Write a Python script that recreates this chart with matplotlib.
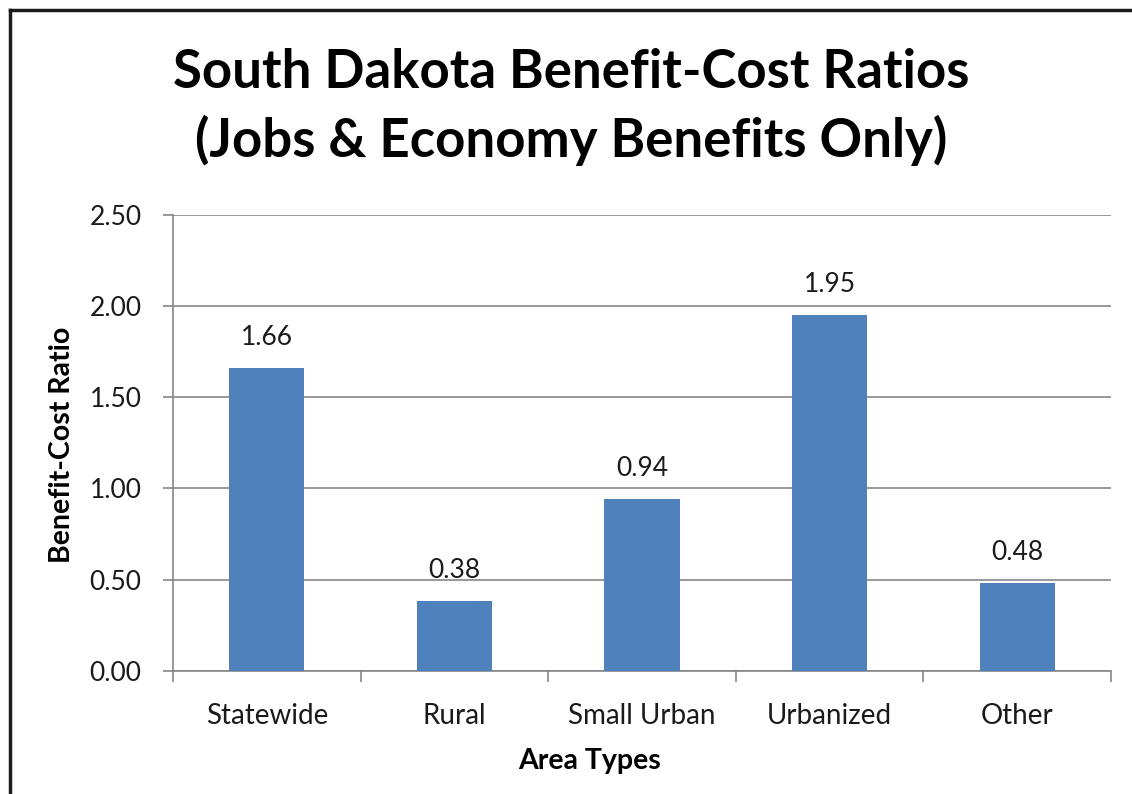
import matplotlib.pyplot as plt
from matplotlib.lines import Line2D

categories = ['Statewide', 'Rural', 'Small Urban', 'Urbanized', 'Other']
ratios = [1.66, 0.38, 0.94, 1.95, 0.48]
yticks = [0.0, 0.5, 1.0, 1.5, 2.0, 2.5]

plt.rcParams['font.family'] = ['Lato', 'DejaVu Sans']

fig = plt.figure(figsize=(11.32, 7.94), dpi=100)
ax = fig.add_axes([173 / 1132, 1 - 670.7 / 794, 938 / 1132, 456 / 794])

x = list(range(len(categories)))
ax.bar(x, ratios, width=0.4, color='#4F81BD', zorder=3)
for xi, v in zip(x, ratios):
    ax.annotate(f'{v:.2f}', (xi, v), xytext=(0, 22), textcoords='offset points',
                ha='center', va='center', fontsize=19, color='#1a1a1a')

ax.set_xlim(-0.5, len(categories) - 0.5)
ax.set_ylim(0, 2.5)
ax.set_yticks(yticks)
ax.set_yticklabels([f'{t:.2f}' for t in yticks], fontsize=19, color='#1a1a1a')
ax.set_xticks(x)
ax.set_xticklabels(categories, fontsize=20, color='#1a1a1a')
ax.tick_params(axis='x', length=0, pad=23)
ax.tick_params(axis='y', length=7.5, color='#868686', width=1.2, pad=15)
# category boundary ticks
ax.set_xticks([i - 0.5 for i in range(len(categories) + 1)], minor=True)
ax.tick_params(axis='x', which='minor', length=8, color='#868686', width=1.2)

ax.grid(axis='y', color='#868686', linewidth=1.2, zorder=0)
for s in ['top', 'right']:
    ax.spines[s].set_visible(False)
for s in ['left', 'bottom']:
    ax.spines[s].set_color('#868686')
    ax.spines[s].set_linewidth(1.2)

fig.text(62 / 1132, 1 - 445 / 794, 'Benefit-Cost Ratio', rotation=90, ha='center', va='center',
         fontsize=20.5, fontweight='bold')
fig.text(590 / 1132, 1 - 761 / 794, 'Area Types', ha='center', va='center',
         fontsize=20.5, fontweight='bold')
fig.text(571 / 1132, 1 - 72 / 794, 'South Dakota Benefit-Cost Ratios', ha='center', va='center',
         fontsize=38, fontweight='bold')
fig.text(571 / 1132, 1 - 140 / 794, '(Jobs & Economy Benefits Only)', ha='center', va='center',
         fontsize=38, fontweight='bold')

# frame lines along left and top
fig.add_artist(Line2D([10 / 1132, 10 / 1132], [0, 1 - 10 / 794], color='#1a1a1a', linewidth=2.5,
                      transform=fig.transFigure))
fig.add_artist(Line2D([10 / 1132, 1], [1 - 10 / 794, 1 - 10 / 794], color='#1a1a1a', linewidth=2.5,
                      transform=fig.transFigure))

plt.savefig('out.png', dpi=100)
